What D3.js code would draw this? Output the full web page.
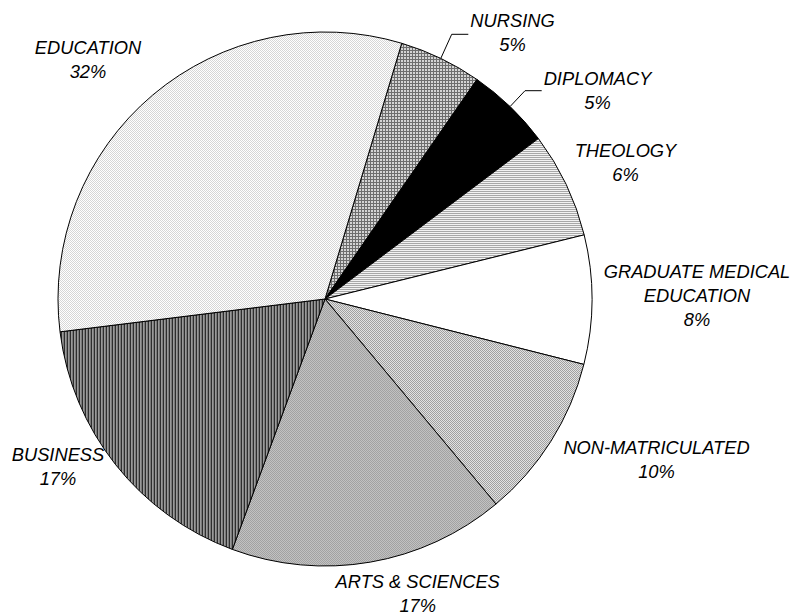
<!DOCTYPE html>
<html>
<head>
<meta charset="utf-8">
<script src="https://cdn.jsdelivr.net/npm/d3@7"></script>
<style>
  html, body { margin: 0; padding: 0; background: #fff; }
  svg { display: block; }
  text { font-family: "Liberation Sans", Arial, sans-serif; font-style: italic; font-size: 18.3px; fill: #000; }
</style>
</head>
<body>
<script>
// ---- data ----
const categories = ["NURSING", "DIPLOMACY", "THEOLOGY", "GRADUATE MEDICAL EDUCATION",
                    "NON-MATRICULATED", "ARTS & SCIENCES", "BUSINESS", "EDUCATION"];
const values = [5.0, 5.1, 6.4, 7.8, 10.0, 16.7, 17.4, 31.6];

// ---- layout ----
const W = 795, H = 616;
const cx = 325, cy = 299, R = 267;
const startDeg = 16.7;
// label anchor (first baseline, centre) relative to the pie centre
const labelLayout = [
  { dx: 187.5, dy: -271.7, leader: { ex: 451.7 - 325, ey: 34.3 - 299, hx: 468.3 - 325 } },
  { dx: 272.5, dy: -214,   leader: { ex: 525 - 325,   ey: 90.7 - 299, hx: 541.7 - 325 } },
  { dx: 300.5, dy: -141.7 },
  { dx: 372,   dy: -20.7 },
  { dx: 331.5, dy: 155 },
  { dx: 92.7,  dy: 288.5 },
  { dx: -267,  dy: 162 },
  { dx: -237,  dy: -245 }
];
const lineH = 24;

const svg = d3.select("body").append("svg").attr("width", W).attr("height", H);
const defs = svg.append("defs");

function pattern(id, w, h, bg, cells) {
  const p = defs.append("pattern").attr("id", id).attr("patternUnits", "userSpaceOnUse")
    .attr("width", w).attr("height", h);
  p.append("rect").attr("width", w).attr("height", h).attr("fill", bg).attr("shape-rendering", "crispEdges");
  cells.forEach(c => p.append("rect").attr("x", c[0]).attr("y", c[1]).attr("width", c[2]).attr("height", c[3])
    .attr("fill", c[4]).attr("shape-rendering", "crispEdges"));
  return `url(#${id})`;
}

const fills = [
  pattern("pNursing", 3, 3, "#d4d4d4", [[0, 0, 3, 1, "#6e6e6e"], [0, 0, 1, 3, "#6e6e6e"]]),
  "#000000",
  pattern("pTheology", 1, 2, "#f2f2f2", [[0, 0, 1, 1, "#a8a8a8"]]),
  "#ffffff",
  pattern("pNonMat", 2, 2, "#e2e2e2", [[0, 0, 1, 1, "#a0a0a0"], [1, 1, 1, 1, "#a0a0a0"]]),
  pattern("pArts", 2, 2, "#c2c2c2", [[0, 0, 1, 1, "#a2a2a2"], [1, 1, 1, 1, "#a2a2a2"]]),
  pattern("pBusiness", 3, 1, "#9a9a9a", [[0, 0, 1, 1, "#2e2e2e"], [2, 0, 1, 1, "#7a7a7a"]]),
  pattern("pEducation", 2, 2, "#ffffff", [[0, 0, 1, 1, "#d6d6d6"], [1, 1, 1, 1, "#d6d6d6"]])
];

const total = d3.sum(values);
const a0 = startDeg * Math.PI / 180;
const pie = d3.pie().sort(null).value(d => d).startAngle(a0).endAngle(a0 + 2 * Math.PI);
const arcs = pie(values);
const arc = d3.arc().innerRadius(0).outerRadius(R);

const g = svg.append("g").attr("transform", `translate(${cx},${cy})`);

g.selectAll("path.slice").data(arcs).join("path")
  .attr("class", "slice")
  .attr("d", arc)
  .attr("fill", (d, i) => fills[i])
  .attr("stroke", "#000")
  .attr("stroke-width", 1)
  .attr("stroke-linejoin", "round");

const pct = d3.format(".0%");

function wrap(name) {
  if (name.length > 18) {
    const k = name.lastIndexOf(" ");
    return [name.slice(0, k), name.slice(k + 1)];
  }
  return [name];
}

arcs.forEach((d, i) => {
  const L = labelLayout[i];
  const lines = wrap(categories[i]).concat([pct(values[i] / total)]);
  const t = g.append("text").attr("text-anchor", "middle");
  lines.forEach((s, j) => {
    t.append("tspan").attr("x", L.dx).attr("y", L.dy + j * lineH).text(s);
  });
  if (L.leader) {
    const mid = (d.startAngle + d.endAngle) / 2;
    const px = R * Math.sin(mid), py = -R * Math.cos(mid);
    g.append("polyline")
      .attr("points", [[px, py], [L.leader.ex, L.leader.ey], [L.leader.hx, L.leader.ey]].map(p => p.join(",")).join(" "))
      .attr("fill", "none").attr("stroke", "#000").attr("stroke-width", 1);
  }
});
</script>
</body>
</html>
